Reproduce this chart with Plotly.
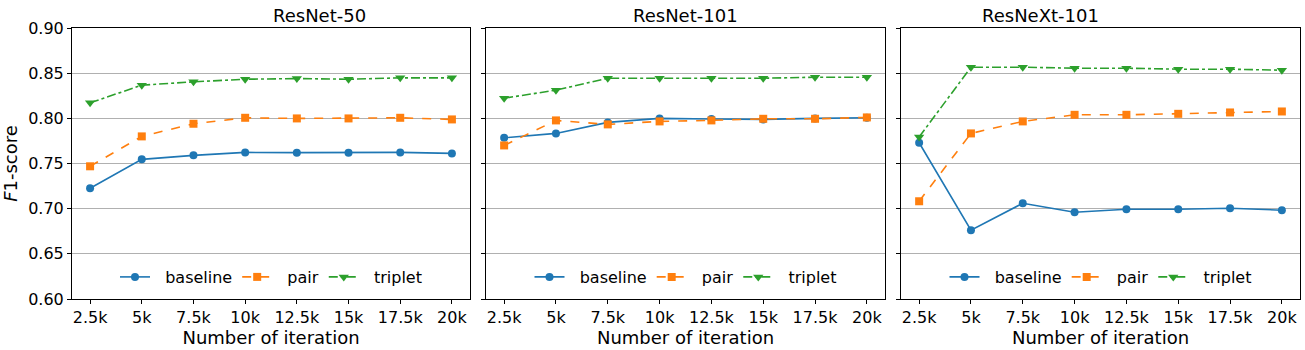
import plotly.graph_objects as go

iterations = ["2.5k", "5k", "7.5k", "10k", "12.5k", "15k", "17.5k", "20k"]
panels = ["ResNet-50", "ResNet-101", "ResNeXt-101"]

r50_baseline = [0.7226, 0.7546, 0.7590, 0.7623, 0.7620, 0.7620, 0.7623, 0.7612]
r50_pair = [0.7469, 0.7800, 0.7940, 0.8006, 0.7999, 0.7999, 0.8006, 0.7988]
r50_triplet = [0.8172, 0.8367, 0.8404, 0.8433, 0.8440, 0.8433, 0.8448, 0.8448]

r101_baseline = [0.7785, 0.7833, 0.7955, 0.7999, 0.7992, 0.7988, 0.7999, 0.8006]
r101_pair = [0.7700, 0.7977, 0.7933, 0.7966, 0.7977, 0.7995, 0.7995, 0.8010]
r101_triplet = [0.8223, 0.8312, 0.8444, 0.8444, 0.8444, 0.8444, 0.8455, 0.8455]

rx101_baseline = [0.7730, 0.6762, 0.7060, 0.6960, 0.6994, 0.6994, 0.7005, 0.6983]
rx101_pair = [0.7082, 0.7833, 0.7966, 0.8039, 0.8039, 0.8050, 0.8065, 0.8076]
rx101_triplet = [0.7793, 0.8566, 0.8566, 0.8555, 0.8555, 0.8544, 0.8544, 0.8533]

series_names = ["baseline", "pair", "triplet"]
data = [
    [r50_baseline, r50_pair, r50_triplet],
    [r101_baseline, r101_pair, r101_triplet],
    [rx101_baseline, rx101_pair, rx101_triplet],
]
colors = ["#1f77b4", "#ff7f0e", "#2ca02c"]
dashes = ["solid", "dash", "dashdot"]
symbols = ["circle", "square", "triangle-down"]

W, H = 1305, 350
xdoms = [(72 / W, 470 / W), (486 / W, 885 / W), (901 / W, 1300 / W)]
ydom = (1 - 299 / H, 1 - 28 / H)
FONT = "DejaVu Sans"

fig = go.Figure()
legend_names = ["legend", "legend2", "legend3"]
for p in range(3):
    xa = "x" if p == 0 else f"x{p+1}"
    ya = "y" if p == 0 else f"y{p+1}"
    for s in range(3):
        fig.add_trace(go.Scatter(
            x=iterations, y=data[p][s], name="\u00a0\u00a0" + series_names[s],
            mode="lines+markers",
            line=dict(color=colors[s], width=1.6, dash=dashes[s]),
            marker=dict(symbol=symbols[s], size=8 if s != 2 else 9, color=colors[s], line=dict(width=0)),
            xaxis=xa, yaxis=ya, legend=legend_names[p],
        ))

layout = dict(
    width=W, height=H,
    margin=dict(l=0, r=0, t=0, b=0, autoexpand=False),
    paper_bgcolor="white", plot_bgcolor="white",
    font=dict(family=FONT, size=16, color="black"),
    showlegend=True,
)
for p in range(3):
    xk = "xaxis" if p == 0 else f"xaxis{p+1}"
    yk = "yaxis" if p == 0 else f"yaxis{p+1}"
    layout[xk] = dict(
        domain=list(xdoms[p]), anchor="y" if p == 0 else f"y{p+1}",
        type="category", range=[-0.35, 7.35], automargin=False,
        showline=True, mirror=True, linecolor="black", linewidth=1,
        ticks="outside", ticklen=4, tickcolor="black", showgrid=False,
        tickfont=dict(family=FONT, size=16),
        title=dict(text="Number of iteration", font=dict(family=FONT, size=18), standoff=4),
    )
    layout[yk] = dict(
        domain=list(ydom), anchor="x" if p == 0 else f"x{p+1}",
        range=[0.60, 0.90], tickvals=[0.60, 0.65, 0.70, 0.75, 0.80, 0.85, 0.90],
        tickformat=".2f", showticklabels=(p == 0), automargin=False,
        showline=True, mirror=True, linecolor="black", linewidth=1,
        ticks="outside", ticklen=4, tickcolor="black",
        showgrid=True, gridcolor="#b0b0b0", gridwidth=0.8, zeroline=False,
        tickfont=dict(family=FONT, size=16),
    )
    if p == 0:
        layout[yk]["title"] = dict(text="<i>F</i>1-score", font=dict(family=FONT, size=18), standoff=6)
    ln = legend_names[p]
    layout[ln] = dict(
        orientation="h", x=(xdoms[p][0] + xdoms[p][1]) / 2, xanchor="center",
        y=1 - 277 / H, yanchor="middle", bgcolor="rgba(0,0,0,0)",
        font=dict(family=FONT, size=16), itemwidth=30,
    )

fig.update_layout(**layout)
annotations = []
for p in range(3):
    annotations.append(dict(
        text=panels[p], x=(xdoms[p][0] + xdoms[p][1]) / 2, y=1 - 16 / H,
        xref="paper", yref="paper", showarrow=False, yanchor="middle",
        font=dict(family=FONT, size=18, color="black"),
    ))
fig.update_layout(annotations=annotations)
fig.write_html(
    "out.html",
    config={"displayModeBar": False},
    post_script="document.body.style.margin='0';document.body.style.overflow='hidden';",
)
